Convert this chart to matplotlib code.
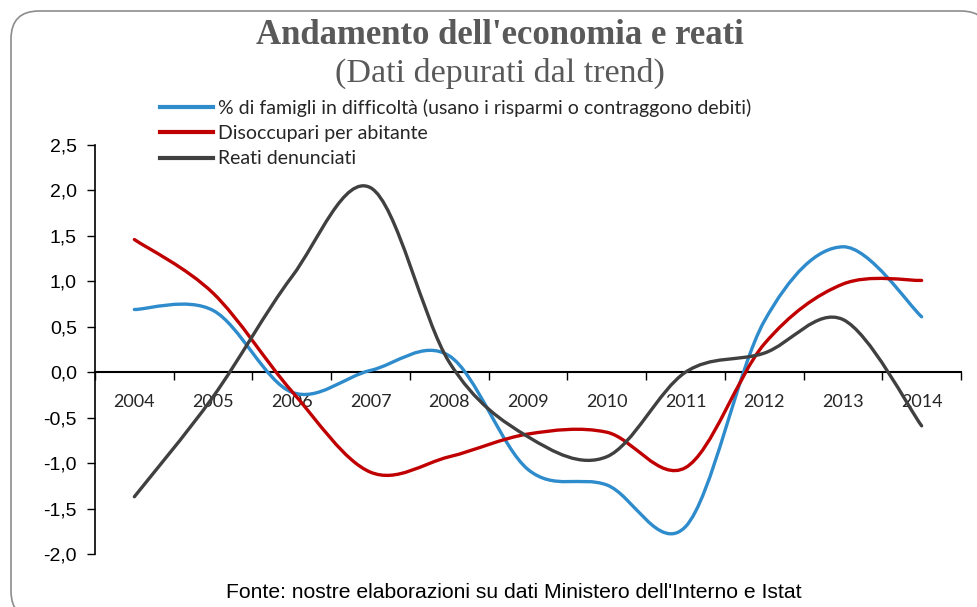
import matplotlib
matplotlib.use("Agg")
import matplotlib.pyplot as plt
from matplotlib.path import Path
from matplotlib.patches import PathPatch, FancyBboxPatch
from matplotlib.lines import Line2D
import numpy as np

# ---------------- data ----------------
years = ["2004", "2005", "2006", "2007", "2008", "2009", "2010", "2011", "2012", "2013", "2014"]
famiglie = [0.69, 0.68, -0.22, 0.02, 0.18, -1.07, -1.24, -1.70, 0.56, 1.38, 0.61]
disoccupati = [1.46, 0.87, -0.21, -1.10, -0.93, -0.68, -0.66, -1.05, 0.31, 0.97, 1.01]
reati = [-1.37, -0.27, 1.05, 2.03, 0.11, -0.71, -0.93, 0.00, 0.21, 0.58, -0.59]
series_labels = ["% di famigli in difficoltà (usano i risparmi o contraggono debiti)",
                 "Disoccupari per abitante",
                 "Reati denunciati"]
ytick_values = [-2.0, -1.5, -1.0, -0.5, 0.0, 0.5, 1.0, 1.5, 2.0, 2.5]
ytick_labels = ["-2,0", "-1,5", "-1,0", "-0,5", "0,0", "0,5", "1,0", "1,5", "2,0", "2,5"]
title = "Andamento dell'economia e reati"
subtitle = "(Dati depurati dal trend)"
source = "Fonte: nostre elaborazioni su dati Ministero dell'Interno e Istat"

colors = ["#2E8BCC", "#C00000", "#404040"]

W, H = 977, 607
fig = plt.figure(figsize=(W / 100, H / 100), dpi=100)

# background frame
bg = fig.add_axes([0, 0, 1, 1], zorder=-10)
bg.set_xlim(0, W)
bg.set_ylim(H, 0)
bg.axis("off")
bg.add_patch(FancyBboxPatch((11 + 28, 11 + 28), W + 40 - 39 - 56, H - 39 - 56 + 40,
                            boxstyle="round,pad=28,rounding_size=28",
                            fc="white", ec="#8C8C8C", lw=1.2))

# main axes
left, right = 95 / W, 961 / W
bottom, top = 1 - 554 / H, 1 - 145 / H
ax = fig.add_axes([left, bottom, right - left, top - bottom])
ax.set_xlim(-0.5, len(years) - 0.5)
ax.set_ylim(-2.0, 2.5)
ax.patch.set_alpha(0)


def smooth_path(xs, ys):
    pts = np.column_stack([xs, ys]).astype(float)
    n = len(pts)
    verts = [pts[0]]
    codes = [Path.MOVETO]
    for i in range(n - 1):
        p0 = pts[i - 1] if i > 0 else pts[i]
        p1 = pts[i]
        p2 = pts[i + 1]
        p3 = pts[i + 2] if i + 2 < n else pts[i + 1]
        c1 = p1 + (p2 - p0) / 6.0
        c2 = p2 - (p3 - p1) / 6.0
        verts += [c1, c2, p2]
        codes += [Path.CURVE4] * 3
    return Path(verts, codes)


xs = np.arange(len(years))
for vals, col in zip([famiglie, disoccupati, reati], colors):
    ax.add_patch(PathPatch(smooth_path(xs, vals), fc="none", ec=col, lw=2.4,
                           capstyle="round", joinstyle="round", zorder=3))

# spines
for s in ["top", "right"]:
    ax.spines[s].set_visible(False)
ax.spines["bottom"].set_position(("data", 0))
ax.spines["bottom"].set_linewidth(1.5)
ax.spines["left"].set_linewidth(1.2)

ax.set_yticks(ytick_values)
ax.set_yticklabels(ytick_labels, fontsize=14, family="Liberation Sans")
ax.tick_params(axis="y", direction="out", length=6, width=1, pad=7, colors="black")

ax.set_xticks(np.arange(-0.5, len(years), 1.0))
ax.set_xticklabels([])
ax.tick_params(axis="x", which="major", direction="out", length=6, width=1)
ax.set_xticks(xs, minor=True)
ax.set_xticklabels(years, minor=True, fontsize=13, family="Lato", color="#262626")
ax.tick_params(axis="x", which="minor", length=0, pad=16)

# titles
fig.text(500 / W, 1 - 36 / H, title, ha="center", va="center", fontsize=25,
         fontweight="bold", family="Liberation Serif", color="#595959")
fig.text(500 / W, 1 - 73 / H, subtitle, ha="center", va="center", fontsize=24.5,
         family="Liberation Serif", color="#595959")
fig.text(514 / W, 1 - 592 / H, source, ha="center", va="center", fontsize=15.2,
         family="Liberation Sans", color="black")

handles = [Line2D([], [], color=c, lw=3) for c in colors]
leg = fig.legend(handles, series_labels, loc="upper left",
                 bbox_to_anchor=(160 / W, 1 - 99 / H), frameon=False,
                 prop={"family": "Lato", "size": 14}, handlelength=2.75,
                 handletextpad=0.25, labelspacing=0.42, borderaxespad=0, borderpad=0)
for t in leg.get_texts():
    t.set_color("#262626")

fig.savefig("out.png", dpi=100)
